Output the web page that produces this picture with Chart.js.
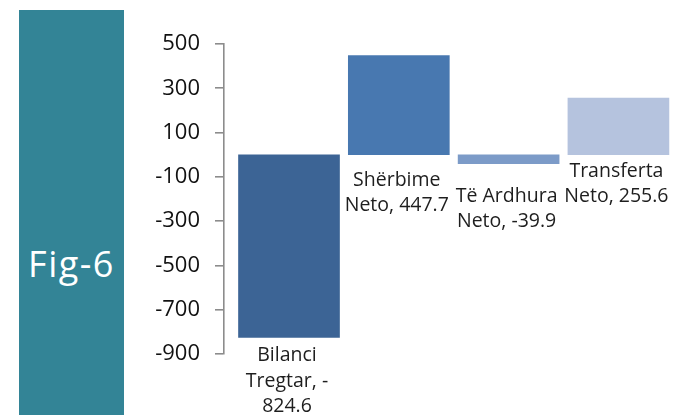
<!DOCTYPE html>
<html>
<head>
<meta charset="utf-8">
<script src="https://cdn.jsdelivr.net/npm/chart.js@4"></script>
<style>
  html, body { margin: 0; padding: 0; background: #fff; }
  #wrap { position: relative; width: 681px; height: 415px; overflow: hidden; }
  #panel {
    position: absolute; left: 19px; top: 10px; width: 105px; height: 405px;
    background: #338496;
  }
  #panel span {
    position: absolute; left: 0; width: 105px; top: 229px; text-align: center;
    color: #fff; font-family: "Open Sans", sans-serif; font-size: 36px; font-weight: 500;
    letter-spacing: 1.5px; line-height: 50px;
  }
  canvas { position: absolute; left: 0; top: 0; }
</style>
</head>
<body>
<div id="wrap">
  <div id="panel"><span>Fig-6</span></div>
  <canvas id="fig6" width="681" height="415"></canvas>
</div>
<script>
const categories = ["Bilanci Tregtar", "Shërbime Neto", "Të Ardhura Neto", "Transferta Neto"];
const values = [-824.6, 447.7, -39.9, 255.6];
// data labels as they are wrapped in the picture
const labelLines = [
    ["Bilanci", "Tregtar, -", "824.6"],
    ["Shërbime", "Neto, 447.7"],
    ["Të Ardhura", "Neto, -39.9"],
    ["Transferta", "Neto, 255.6"]
];
const yMin = -900;
const yMax = 500;
const yStep = 200;

const barColors = ["#3c6495", "#4878b0", "#7c9bc8", "#b5c3de"];
const labelGap = [10, 17, 24, 8];

const points = [];
for (let i = 0; i < values.length; i++) {
    points.push({ x: i, y: values[i] });
}

const barLabels = {
    id: "barLabels",
    afterDatasetsDraw(chart) {
        const ctx = chart.ctx;
        const meta = chart.getDatasetMeta(0);
        ctx.save();
        ctx.font = "19.5px 'Open Sans'";
        ctx.fillStyle = "#1e1e1e";
        ctx.textAlign = "center";
        ctx.textBaseline = "alphabetic";
        meta.data.forEach((bar, i) => {
            const low = Math.max(bar.y, bar.base);
            let y = low + labelGap[i] + 14;
            labelLines[i].forEach(line => {
                ctx.fillText(line, bar.x - 2, y);
                y += 25.5;
            });
        });
        ctx.restore();
    }
};

new Chart(document.getElementById("fig6"), {
    type: "bar",
    data: {
        labels: categories,
        datasets: [
            {
                label: "Fig-6",
                data: points,
                backgroundColor: barColors,
                borderWidth: 0,
                barThickness: 101
            }
        ]
    },
    options: {
        responsive: false,
        animation: false,
        devicePixelRatio: 1,
        layout: {
            padding: { top: 44, bottom: 61, right: 8, left: 0 }
        },
        scales: {
            x: {
                type: "linear",
                display: false,
                offset: false,
                grid: { offset: false },
                min: -0.592,
                max: 3.497
            },
            y: {
                min: yMin,
                max: yMax,
                afterFit: scale => { scale.width = 224; },
                border: {
                    color: "#8c8c8c",
                    width: 1.6
                },
                grid: {
                    drawOnChartArea: false,
                    drawTicks: true,
                    tickLength: 9,
                    color: "#8c8c8c",
                    lineWidth: 1.6
                },
                ticks: {
                    stepSize: yStep,
                    padding: 15,
                    color: "#111",
                    font: { family: "'Open Sans'", size: 22 }
                }
            }
        },
        plugins: {
            legend: { display: false },
            tooltip: { enabled: false }
        }
    },
    plugins: [barLabels]
});
</script>
</body>
</html>
